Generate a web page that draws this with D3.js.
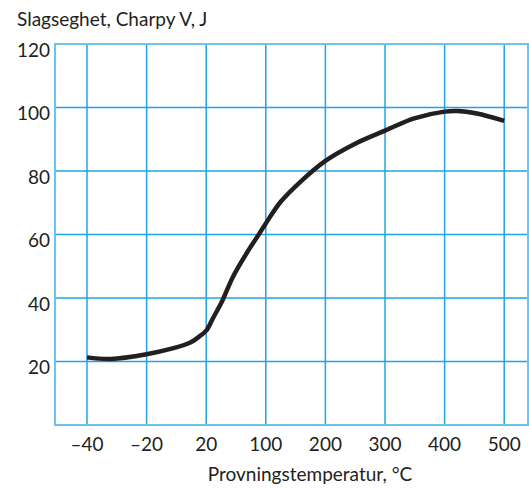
<!DOCTYPE html>
<html>
<head>
<meta charset="utf-8">
<script src="https://cdn.jsdelivr.net/npm/d3@7"></script>
<style>
  body { margin: 0; background: #fff; }
  text { font-family: Lato, "Open Sans", sans-serif; fill: #231f20; }
</style>
</head>
<body>
<div id="chart"></div>
<script>
// x axis is categorical spacing: each tick is one equal step
const tempTicks = [-40, -20, 20, 100, 200, 300, 400, 500];
const tempLabels = ["\u201340", "\u201320", "20", "100", "200", "300", "400", "500"];
const energyTicks = [20, 40, 60, 80, 100, 120];

// curve (temperature, J)
const curveTemp = [-40, -32, -20, -2, 9, 16, 20, 29, 41, 56, 74, 90, 100, 125, 158, 200, 250, 300, 349, 400, 421, 454, 500];
const curveEnergy = [21.3, 20.8, 22.3, 24.2, 25.9, 28.1, 29.7, 33.6, 38.8, 46.7, 54, 59.8, 63.5, 70.3, 76.6, 83.2, 88.6, 92.7, 96.6, 98.7, 98.9, 98.1, 95.8];

const width = 529, height = 489;
const plotLeft = 55, plotTop = 44, plotBottom = 425, plotRight = 529;
const step = 59.6, x0 = 87;

let svg = d3
  .select("#chart")
  .append("svg")
  .attr("width", width)
  .attr("height", height);

let x = d3
  .scaleLinear()
  .domain(tempTicks)
  .range(tempTicks.map((d, i) => x0 + i * step));

let y = d3.scaleLinear().domain([0, 120]).range([plotBottom, plotTop]);

// grid
svg
  .append("g")
  .selectAll("line")
  .data(tempTicks)
  .join("line")
  .attr("x1", d => x(d))
  .attr("x2", d => x(d))
  .attr("y1", plotTop)
  .attr("y2", plotBottom)
  .attr("stroke", "#1ea4e1")
  .attr("stroke-width", 1.5);

svg
  .append("g")
  .selectAll("line")
  .data(energyTicks.filter(d => d < 120))
  .join("line")
  .attr("x1", plotLeft)
  .attr("x2", plotRight)
  .attr("y1", d => y(d))
  .attr("y2", d => y(d))
  .attr("stroke", "#1ea4e1")
  .attr("stroke-width", 1.5);

// frame
svg
  .append("path")
  .attr("d", `M${plotRight - 1},${plotTop} H${plotLeft} V${plotBottom} H${plotRight - 1} Z`)
  .attr("fill", "none")
  .attr("stroke", "#6cc4ee")
  .attr("stroke-width", 2);

// y labels sit a little below their grid line
svg
  .append("g")
  .selectAll("text")
  .data(energyTicks)
  .join("text")
  .attr("x", 50)
  .attr("y", d => y(d) + 6)
  .attr("dy", "0.36em")
  .attr("text-anchor", "end")
  .attr("font-size", 19)
  .text(d => d);

// x labels
svg
  .append("g")
  .selectAll("text")
  .data(tempTicks)
  .join("text")
  .attr("x", d => x(d))
  .attr("y", 451)
  .attr("text-anchor", "middle")
  .attr("font-size", 19)
  .text((d, i) => tempLabels[i]);

svg
  .append("text")
  .attr("x", 17)
  .attr("y", 26)
  .attr("font-size", 19)
  .text("Slagseghet, Charpy V,  J");

svg
  .append("text")
  .attr("x", 310)
  .attr("y", 481)
  .attr("text-anchor", "middle")
  .attr("font-size", 19)
  .text("Provningstemperatur, \u00b0C");

// curve
let line = d3
  .line()
  .x(d => x(d[0]))
  .y(d => y(d[1]))
  .curve(d3.curveCatmullRom.alpha(0.5));

svg
  .append("path")
  .datum(d3.zip(curveTemp, curveEnergy))
  .attr("d", line)
  .attr("fill", "none")
  .attr("stroke", "#231f20")
  .attr("stroke-width", 4.5);
</script>
</body>
</html>
